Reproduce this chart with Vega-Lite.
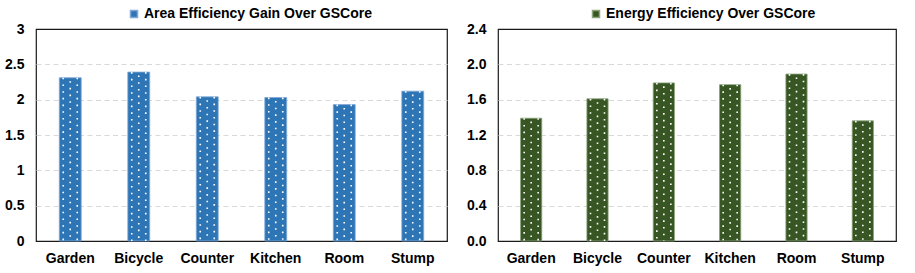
{
  "$schema": "https://vega.github.io/schema/vega-lite/v6.json",
  "background": "white",
  "padding": {"left": 3, "top": 6, "right": 5, "bottom": 5},
  "data": {"values": [
    {"scene": "Garden", "area": 2.31, "energy": 1.39},
    {"scene": "Bicycle", "area": 2.39, "energy": 1.61},
    {"scene": "Counter", "area": 2.04, "energy": 1.79},
    {"scene": "Kitchen", "area": 2.03, "energy": 1.77},
    {"scene": "Room", "area": 1.93, "energy": 1.89},
    {"scene": "Stump", "area": 2.12, "energy": 1.36}
  ]},
  "spacing": 17,
  "config": {
    "font": "Liberation Sans",
    "view": {"stroke": "#1a1a1a", "strokeWidth": 1.2},
    "axis": {"labelFont": "Liberation Sans", "labelFontWeight": "bold", "labelFontSize": 14, "labelColor": "#000", "ticks": false, "title": null},
    "legend": {"labelFont": "Liberation Sans", "labelFontWeight": "bold", "labelFontSize": 14, "labelColor": "#000", "symbolType": "square", "symbolSize": 49, "labelOffset": 3, "labelLimit": 400, "title": null}
  },
  "hconcat": [
    {
      "width": 411,
      "height": 212,
      "encoding": {
        "x": {"field": "scene", "type": "nominal", "sort": null,
          "scale": {"paddingInner": 0.68, "paddingOuter": 0.34},
          "axis": {"labelAngle": 0, "labelPadding": 10, "domainColor": "#1a1a1a", "domainWidth": 1.2, "grid": false}},
        "y": {"field": "area", "type": "quantitative",
          "scale": {"domain": [0, 3], "nice": false},
          "axis": {"values": [0, 0.5, 1, 1.5, 2, 2.5, 3], "format": "~g", "labelPadding": 12, "domain": false,
            "grid": true, "gridColor": "#d9d9d9", "gridDash": [5, 3.5], "gridWidth": 1,
            "gridOpacity": {"condition": {"test": "datum.value >= 3 || datum.value <= 0", "value": 0}, "value": 1}}}
      },
      "layer": [
        {
          "mark": {"type": "bar", "stroke": "#7fa8d6", "strokeWidth": 0.8},
          "encoding": {
            "color": {"datum": "Area Efficiency Gain Over GSCore", "type": "nominal",
              "scale": {"range": ["#2e75b6"]},
              "legend": {"orient": "none", "legendX": 91, "legendY": -22}}
          }
        },
        {"mark": {"type": "rule", "color": "white", "strokeWidth": 1.6, "strokeDash": [1.6, 5.1], "xOffset": -7}, "encoding": {"y2": {"datum": 0}}},
        {"mark": {"type": "rule", "color": "white", "strokeWidth": 1.6, "strokeDash": [1.6, 5.1], "xOffset": 0, "strokeDashOffset": 3.3}, "encoding": {"y2": {"datum": 0}}},
        {"mark": {"type": "rule", "color": "white", "strokeWidth": 1.6, "strokeDash": [1.6, 5.1], "xOffset": 7}, "encoding": {"y2": {"datum": 0}}}
      ]
    },
    {
      "width": 398,
      "height": 212,
      "encoding": {
        "x": {"field": "scene", "type": "nominal", "sort": null,
          "scale": {"paddingInner": 0.68, "paddingOuter": 0.34},
          "axis": {"labelAngle": 0, "labelPadding": 10, "domainColor": "#1a1a1a", "domainWidth": 1.2, "grid": false}},
        "y": {"field": "energy", "type": "quantitative",
          "scale": {"domain": [0, 2.4], "nice": false},
          "axis": {"values": [0, 0.4, 0.8, 1.2, 1.6, 2.0, 2.4], "format": ".1f", "labelPadding": 12, "domain": false,
            "grid": true, "gridColor": "#d9d9d9", "gridDash": [5, 3.5], "gridWidth": 1,
            "gridOpacity": {"condition": {"test": "datum.value >= 2.4 || datum.value <= 0", "value": 0}, "value": 1}}}
      },
      "layer": [
        {
          "mark": {"type": "bar", "stroke": "#8aa37a", "strokeWidth": 0.8},
          "encoding": {
            "color": {"datum": "Energy Efficiency Over GSCore", "type": "nominal",
              "scale": {"range": ["#375623"]},
              "legend": {"orient": "none", "legendX": 91, "legendY": -22}}
          }
        },
        {"mark": {"type": "rule", "color": "white", "strokeWidth": 1.6, "strokeDash": [1.6, 5.1], "xOffset": -7}, "encoding": {"y2": {"datum": 0}}},
        {"mark": {"type": "rule", "color": "white", "strokeWidth": 1.6, "strokeDash": [1.6, 5.1], "xOffset": 0, "strokeDashOffset": 3.3}, "encoding": {"y2": {"datum": 0}}},
        {"mark": {"type": "rule", "color": "white", "strokeWidth": 1.6, "strokeDash": [1.6, 5.1], "xOffset": 7}, "encoding": {"y2": {"datum": 0}}}
      ]
    }
  ],
  "resolve": {"scale": {"color": "independent"}, "legend": {"color": "independent"}}
}
